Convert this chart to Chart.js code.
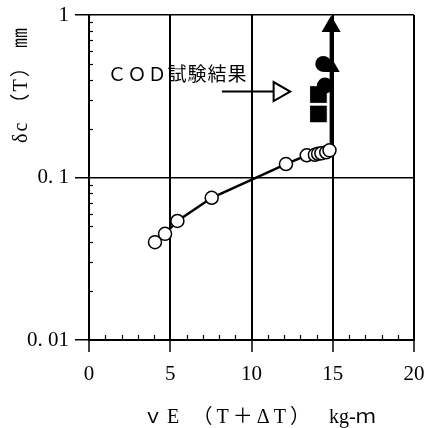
<!DOCTYPE html>
<html><head><meta charset="utf-8">
<script src="https://cdn.jsdelivr.net/npm/chart.js@4/dist/chart.umd.min.js"></script>
<style>html,body{margin:0;padding:0;background:#fff}#wrap{width:431px;height:428px;position:relative}canvas{display:block}</style>
</head><body><div id="wrap"><canvas id="c" width="431" height="428" style="width:431px;height:428px"></canvas></div>
<script>
const xTicks=[0,5,10,15,20];
const yTicks=[0.01,0.1,1];
const yTickLabels=['0. 01','0. 1','1'];
const openX=[4.06,4.68,5.44,7.55,12.12,13.4,13.9,14.1,14.3,14.6,14.8];
const openY=[0.040,0.045,0.054,0.075,0.121,0.137,0.138,0.140,0.141,0.143,0.147];
const arrowX=[14.9,14.9];
const arrowY=[0.147,0.85];
const squareX=[14.12,14.12];
const squareY=[0.324,0.246];
const circleX=[14.42,14.52];
const circleY=[0.50,0.368];
const triX=[14.95];
const triY=[0.475];
const noteLineX=[8.18,11.7];
const noteLineY=[0.338,0.338];
const noteText='ＣＯＤ試験結果';
const xTitleMain='ｖE （T＋ΔT）';
const xTitleUnit='kg-ｍ';
const yTitle='δc （T） ㎜';

const pts=(xs,ys)=>xs.map((x,i)=>({x:x,y:ys[i]}));
const SERIF='"Liberation Serif","Noto Sans CJK JP",serif';

function spreadText(ctx,text,left,cy,width){
  ctx.letterSpacing='0px';
  const w=ctx.measureText(text).width;
  const n=[...text].length;
  const sp=Math.max(0,(width-w)/(n-1));
  ctx.letterSpacing=sp+'px';
  ctx.textAlign='left';
  ctx.fillText(text,left,cy);
  ctx.letterSpacing='0px';
}

const extras={
  id:'extras',
  beforeDatasetsDraw(chart){
    const ctx=chart.ctx, xs=chart.scales.x, ys=chart.scales.y, a=chart.chartArea;
    ctx.save();
    ctx.strokeStyle='#000'; ctx.lineWidth=1.2;
    for(let d=0.01; d<1; d*=10){
      for(let k=2;k<=9;k++){
        const py=Math.round(ys.getPixelForValue(d*k))+0.5;
        ctx.beginPath(); ctx.moveTo(a.left,py); ctx.lineTo(a.left+4,py); ctx.stroke();
      }
    }
    for(let v=1; v<20; v++){
      if(v%5===0) continue;
      const px=Math.round(xs.getPixelForValue(v))+0.5;
      ctx.beginPath(); ctx.moveTo(px,a.bottom); ctx.lineTo(px,a.bottom-5); ctx.stroke();
    }
    ctx.restore();
  },
  afterDraw(chart){
    const ctx=chart.ctx;
    ctx.save();
    ctx.fillStyle='#000';
    ctx.font='19px "Noto Sans CJK JP",sans-serif';
    ctx.textAlign='center'; ctx.textBaseline='middle';
    const chars=[...noteText];
    chars.forEach((ch,i)=>ctx.fillText(ch,117+i*20,74));
    ctx.font='20px '+SERIF;
    spreadText(ctx,xTitleMain,143,418,167);
    ctx.textAlign='left';
    ctx.fillText(xTitleUnit,329,418);
    ctx.translate(22,86); ctx.rotate(-Math.PI/2);
    spreadText(ctx,yTitle,-57,0,115);
    ctx.restore();
  }
};

new Chart(document.getElementById('c'),{
  type:'scatter',
  data:{datasets:[
    {data:pts(openX,openY),showLine:true,borderColor:'#000',borderWidth:2.5,
     pointRadius:6.5,pointBackgroundColor:'#fff',pointBorderColor:'#000',pointBorderWidth:1.5},
    {data:pts(circleX,circleY),pointRadius:8,pointBackgroundColor:'#000',pointBorderColor:'#000',pointBorderWidth:0},
    {data:pts(squareX,squareY),pointStyle:'rect',pointRadius:12.5,pointBackgroundColor:'#000',pointBorderColor:'#fff',pointBorderWidth:1},
    {data:pts(triX,triY),pointStyle:'triangle',pointRadius:9,pointBackgroundColor:'#000',pointBorderColor:'#000',pointBorderWidth:0},
    {data:pts(arrowX,arrowY),showLine:true,borderColor:'#000',borderWidth:3,
     pointStyle:'triangle',pointRadius:[0,11],pointBackgroundColor:'#000',pointBorderColor:'#000',pointBorderWidth:0},
    {data:pts(noteLineX,noteLineY),showLine:true,borderColor:'#000',borderWidth:2,
     pointStyle:'triangle',pointRotation:90,pointRadius:[0,11],pointBackgroundColor:'#fff',pointBorderColor:'#000',pointBorderWidth:2}
  ]},
  options:{
    responsive:false,animation:false,devicePixelRatio:1,
    layout:{padding:{top:15,right:17,left:0,bottom:0}},
    plugins:{legend:{display:false},tooltip:{enabled:false}},
    elements:{point:{hoverRadius:0}},
    scales:{
      x:{type:'linear',min:0,max:20,
        afterBuildTicks(s){s.ticks=xTicks.map(v=>({value:v}));},
        afterFit(s){s.height=88;s.paddingLeft=0;s.paddingRight=0;},
        ticks:{color:'#000',font:{family:SERIF,size:21},padding:10,maxRotation:0},
        grid:{color:'#000',lineWidth:2,tickLength:12,tickWidth:1.5,tickColor:'#000'},
        border:{display:true,color:'#000',width:2}
      },
      y:{type:'logarithmic',min:0.01,max:1,
        afterBuildTicks(s){s.ticks=yTicks.map(v=>({value:v}));},
        afterFit(s){s.width=89;s.paddingTop=0;s.paddingBottom=0;},
        ticks:{color:'#000',font:{family:SERIF,size:21},padding:6,
          callback:(v,i)=>yTickLabels[i]},
        grid:{color:'#000',lineWidth:1.5,tickLength:14,tickWidth:1.5,tickColor:'#000'},
        border:{display:true,color:'#000',width:2}
      }
    }
  },
  plugins:[extras]
});
</script>
</body></html>
